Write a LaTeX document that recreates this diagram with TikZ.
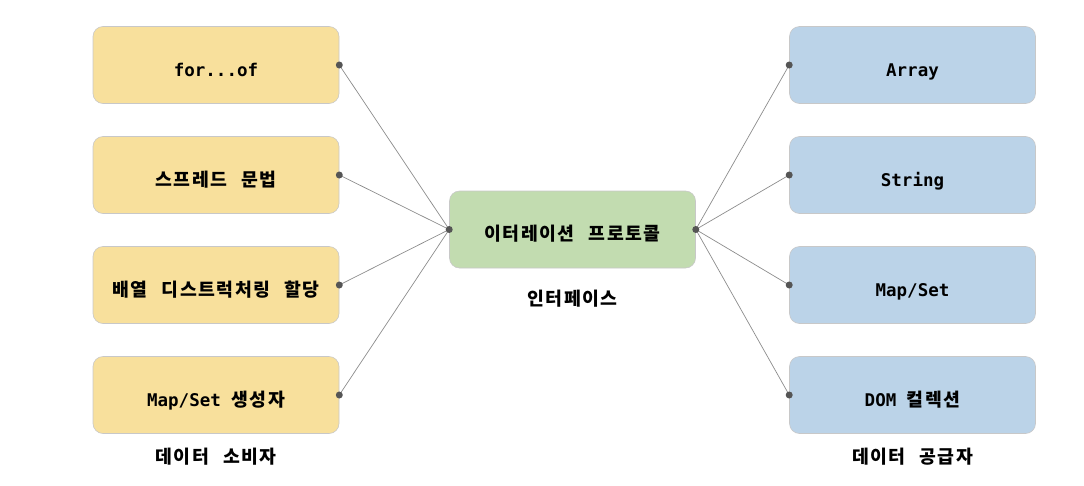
\documentclass[tikz,border=0pt]{standalone}
\usepackage{fontspec}
\setmainfont{DejaVu Sans Mono}
\newfontfamily\kr{Noto Sans CJK KR}[WordSpace=2.5,LetterSpace=8]
\definecolor{yel}{HTML}{F8E09C}
\definecolor{grn}{HTML}{C2DCB0}
\definecolor{blu}{HTML}{BBD3E8}
\definecolor{edge}{HTML}{C8C8C8}
\definecolor{ln}{HTML}{8C8C8C}
\definecolor{dot}{HTML}{555555}
\newcommand{\K}{\kr\fontsize{18.3}{21}\selectfont}
\begin{document}
\begin{tikzpicture}[x=1pt,y=-1pt,
  box/.style={rounded corners=10pt, draw=edge, line width=0.6pt, minimum width=246pt, minimum height=77pt, inner sep=0pt, text height=22.5pt, text depth=0pt, font=\fontsize{17.5}{20}\selectfont\bfseries},
  ybox/.style={box, fill=yel},
  gbox/.style={box, fill=grn},
  bbox/.style={box, fill=blu},
  lbl/.style={font=\K\bfseries},
  conn/.style={draw=ln, line width=0.7pt},
  pt/.style={fill=dot}]
\useasboundingbox (0,0) rectangle (1084,485);
\node[ybox] (c1) at (216,65) {for...of};
\node[ybox] (c2) at (216,175) {\K 스프레드 문법};
\node[ybox] (c3) at (216,285) {\K 배열 디스트럭처링 할당};
\node[ybox] (c4) at (216,395) {Map/Set {\K 생성자}};
\node[gbox] (it) at (572.5,229.5) {\K 이터레이션 프로토콜};
\node[bbox] (p1) at (912.5,65) {Array};
\node[bbox] (p2) at (912.5,175) {String};
\node[bbox] (p3) at (912.5,285) {Map/Set};
\node[bbox] (p4) at (912.5,395) {DOM {\K 컬렉션}};
\node[lbl] (li) at (572.5,299) {인터페이스};
\node[lbl] (lc) at (216,457) {데이터 소비자};
\node[lbl] (lp) at (912.5,457) {데이터 공급자};
\foreach \n in {c1,c2,c3,c4}{
  \draw[conn] (\n.east) -- (it.west);
  \fill[pt] (\n.east) circle (3.5pt);
}
\foreach \n in {p1,p2,p3,p4}{
  \draw[conn] (it.east) -- (\n.west);
  \fill[pt] (\n.west) circle (3.5pt);
}
\fill[pt] (it.west) circle (3.5pt);
\fill[pt] (it.east) circle (3.5pt);
\end{tikzpicture}
\end{document}
